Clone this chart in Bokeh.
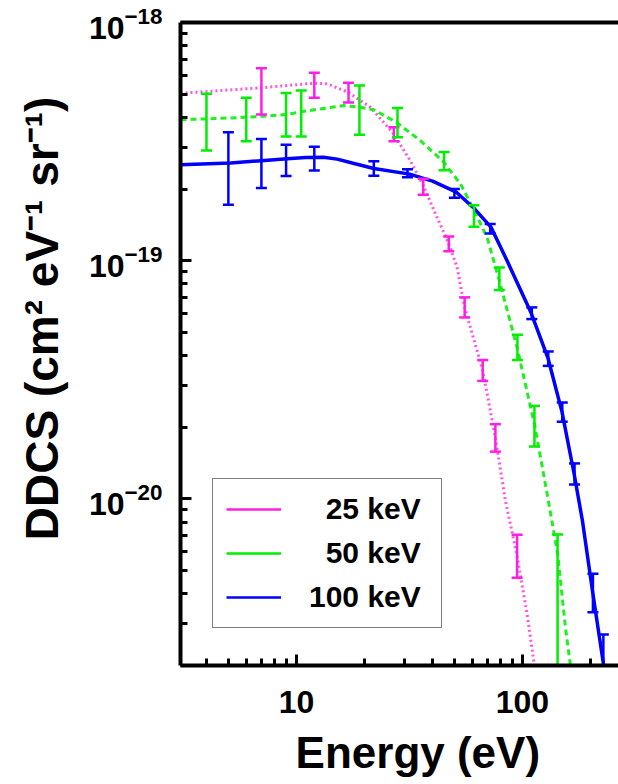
import numpy as np
from bokeh.plotting import figure
from bokeh.models import (FixedTicker, LogAxis, Legend, LegendItem, LogTickFormatter,
                          PrintfTickFormatter, CustomJSTickFormatter, Range1d)
from bokeh.embed import file_html
from bokeh.resources import INLINE

# ---------------- data ----------------
# 25 keV : measured points (energy eV, DDCS, error) and fitted curve
e25 = [7, 12, 17, 27, 36.4, 47.2, 55.5, 66.7, 75.9, 94.7]
v25 = [5.27e-19, 5.49e-19, 5.10e-19, 3.40e-19, 2.05e-19, 1.18e-19, 6.40e-20, 3.48e-20, 1.82e-20, 5.87e-21]
err25 = [1.16e-19, 0.66e-19, 0.48e-19, 0.23e-19, 0.158e-19, 0.084e-19, 0.62e-20, 0.35e-20, 0.24e-20, 1.2e-21]
fit25_e = [3.07, 3.89, 6.93, 12.0, 13.67, 16.9, 21.25, 26.8, 31.9, 36.4, 41.9, 47.2, 51.4, 55.5,
           66.7, 75.9, 84.1, 94.7, 104.9, 113.0, 117.0]
fit25_v = [5.05e-19, 5.12e-19, 5.32e-19, 5.56e-19, 5.53e-19, 5.10e-19, 4.41e-19, 3.43e-19, 2.63e-19,
           2.07e-19, 1.52e-19, 1.18e-19, 9.37e-20, 6.37e-20, 3.47e-20, 1.81e-20, 9.81e-21, 5.76e-21,
           3.28e-21, 1.99e-21, 1.5e-21]

# 50 keV
e50 = [4, 6, 9, 10.5, 19, 28, 45, 61, 79, 95, 113, 143]
v50 = [3.96e-19, 4.00e-19, 4.19e-19, 4.25e-19, 4.41e-19, 3.84e-19, 2.63e-19, 1.55e-19, 8.45e-20,
       4.36e-20, 2.06e-20, 3.6e-21]
err50 = [1.06e-19, 0.83e-19, 0.87e-19, 0.93e-19, 1.03e-19, 0.54e-19, 0.23e-19, 0.16e-19, 0.92e-20,
         0.53e-20, 0.40e-20, 3.5e-21]
fit50_e = [3.07, 4.05, 6.05, 9.1, 10.6, 16.2, 19.2, 22.0, 27.7, 35.4, 44.6, 53.2, 61.3, 69.8, 78.6,
           94.7, 113.4, 128.6, 143.2, 155.0, 163.1, 170.0]
fit50_v = [3.91e-19, 3.94e-19, 4.00e-19, 4.11e-19, 4.23e-19, 4.48e-19, 4.41e-19, 4.30e-19, 3.81e-19,
           3.19e-19, 2.61e-19, 2.10e-19, 1.62e-19, 1.25e-19, 8.40e-20, 4.32e-20, 2.03e-20, 1.05e-20,
           5.86e-21, 2.88e-21, 1.99e-21, 1.4e-21]

# 100 keV
e100 = [5, 7, 9, 12, 22, 31, 50, 72, 110, 130, 150, 170, 205, 228]
v100 = [2.59e-19, 2.63e-19, 2.67e-19, 2.70e-19, 2.445e-19, 2.33e-19, 1.92e-19, 1.364e-19, 6.03e-20,
        3.89e-20, 2.325e-20, 1.28e-20, 4.10e-21, 2.19e-21]
err100 = [0.87e-19, 0.61e-19, 0.40e-19, 0.31e-19, 0.17e-19, 0.09e-19, 0.08e-19, 0.062e-19, 0.34e-20,
          0.27e-20, 0.215e-20, 0.13e-20, 0.75e-21, 0.51e-21]
fit100_e = [3.07, 5.11, 6.98, 9.10, 11.0, 13.17, 15.14, 18.0, 22.0, 31.7, 40.0, 51.0, 60.7, 72.7, 85.5,
            109.3, 129.9, 149.6, 169.4, 184.3, 204.7, 228.9, 236.0]
fit100_v = [2.53e-19, 2.57e-19, 2.63e-19, 2.68e-19, 2.71e-19, 2.72e-19, 2.67e-19, 2.56e-19, 2.44e-19,
            2.31e-19, 2.16e-19, 1.94e-19, 1.67e-19, 1.38e-19, 1.0e-19, 6.03e-20, 3.88e-20, 2.32e-20,
            1.27e-20, 8.08e-21, 4.03e-21, 1.99e-21, 1.5e-21]

series_labels = ["25 keV", "50 keV", "100 keV"]
x_major = [10, 100]
x_minor = [4, 5, 6, 7, 8, 9, 20, 30, 40, 50, 60, 70, 80, 90, 200]
y_major = [1e-20, 1e-19, 1e-18]
y_minor = ([k * 1e-21 for k in range(2, 10)] + [k * 1e-20 for k in range(2, 10)]
           + [k * 1e-19 for k in range(2, 10)])
x_title = "Energy (eV)"
y_title = "DDCS (cm\u00b2 eV\u207b\u00b9 sr\u207b\u00b9)"

FONT = "Liberation Sans"
NB = "\u00a0"   # non-breaking spaces used only to offset centred titles

p = figure(width=618, height=784, x_axis_type="log", y_axis_type="log",
           x_range=Range1d(3.07, 266), y_range=Range1d(2e-21, 1e-18),
           output_backend="svg", toolbar_location=None,
           min_border_left=180, min_border_right=0, min_border_top=22, min_border_bottom=119)
p.outline_line_color = None
p.xgrid.visible = False
p.ygrid.visible = False
p.background_fill_color = "white"
p.border_fill_color = "white"

# x axis
xa = p.xaxis[0]
xa.ticker = FixedTicker(ticks=x_major, minor_ticks=x_minor)
xa.formatter = PrintfTickFormatter(format="%d")
xa.axis_line_width = 4
xa.major_tick_in = 11
xa.major_tick_out = 0
xa.minor_tick_in = 7
xa.minor_tick_out = 0
xa.major_tick_line_width = 3
xa.minor_tick_line_width = 3
xa.major_label_text_font = FONT
xa.major_label_text_font_style = "bold"
xa.major_label_text_font_size = "32px"
xa.major_label_text_color = "black"
xa.major_label_standoff = 25
xa.axis_label = NB * 3 + x_title
xa.axis_label_text_font = FONT
xa.axis_label_text_font_style = "bold"
xa.axis_label_text_font_size = "44px"
xa.axis_label_text_color = "black"
xa.axis_label_standoff = 12

# y axis
ya = p.yaxis[0]
ya.ticker = FixedTicker(ticks=y_major, minor_ticks=y_minor)
ya.formatter = LogTickFormatter()
ya.axis_line_width = 4
ya.major_tick_in = 11
ya.major_tick_out = 0
ya.minor_tick_in = 7
ya.minor_tick_out = 0
ya.major_tick_line_width = 3
ya.minor_tick_line_width = 3
ya.major_label_text_font = FONT
ya.major_label_text_font_style = "bold"
ya.major_label_text_font_size = "32px"
ya.major_label_text_color = "black"
ya.major_label_standoff = 18
ya.axis_label = NB * 4 + y_title
ya.axis_label_text_font = FONT
ya.axis_label_text_font_style = "bold"
ya.axis_label_text_font_size = "46px"
ya.axis_label_text_color = "black"
ya.axis_label_standoff = 18

# top border line
top = LogAxis(ticker=FixedTicker(ticks=[]), formatter=CustomJSTickFormatter(code="return ''"),
              major_tick_in=0, major_tick_out=0, minor_tick_in=0, minor_tick_out=0,
              axis_line_width=4, major_label_standoff=0)
p.add_layout(top, "above")

# fitted curves
p.line(fit25_e, fit25_v, line_color="#ff55dd", line_width=3, line_dash="2 3")
p.line(fit50_e, fit50_v, line_color="#22ee22", line_width=3, line_dash="6 4")
p.line(fit100_e, fit100_v, line_color="#0000ff", line_width=3.5)

# error bars
def errbars(e, v, err, color):
    v = np.array(v); err = np.array(err)
    lo = np.maximum(v - err, 1e-23)
    hi = v + err
    r = p.segment(x0=e, y0=lo, x1=e, y1=hi, line_color=color, line_width=2.5)
    p.scatter(x=e, y=hi, marker="dash", size=11, line_color=color, line_width=2.5)
    p.scatter(x=e, y=lo, marker="dash", size=11, line_color=color, line_width=2.5)
    return r

r25 = errbars(e25, v25, err25, "#ff1ee6")
r50 = errbars(e50, v50, err50, "#00ee00")
r100 = errbars(e100, v100, err100, "#0000ff")

legend = Legend(items=[LegendItem(label=NB * 2 + series_labels[0], renderers=[r25]),
                       LegendItem(label=NB * 2 + series_labels[1], renderers=[r50]),
                       LegendItem(label=series_labels[2], renderers=[r100])],
                location=(32, 37), padding=13, spacing=10, glyph_width=55, glyph_height=20,
                label_height=30, label_width=119, label_standoff=28,
                label_text_font=FONT, label_text_font_style="bold", label_text_font_size="30px",
                label_text_color="black",
                border_line_color="black", border_line_width=1.5,
                background_fill_color="white", background_fill_alpha=1.0)
p.add_layout(legend, "center")

open("out.html", "w").write(file_html(p, INLINE))
